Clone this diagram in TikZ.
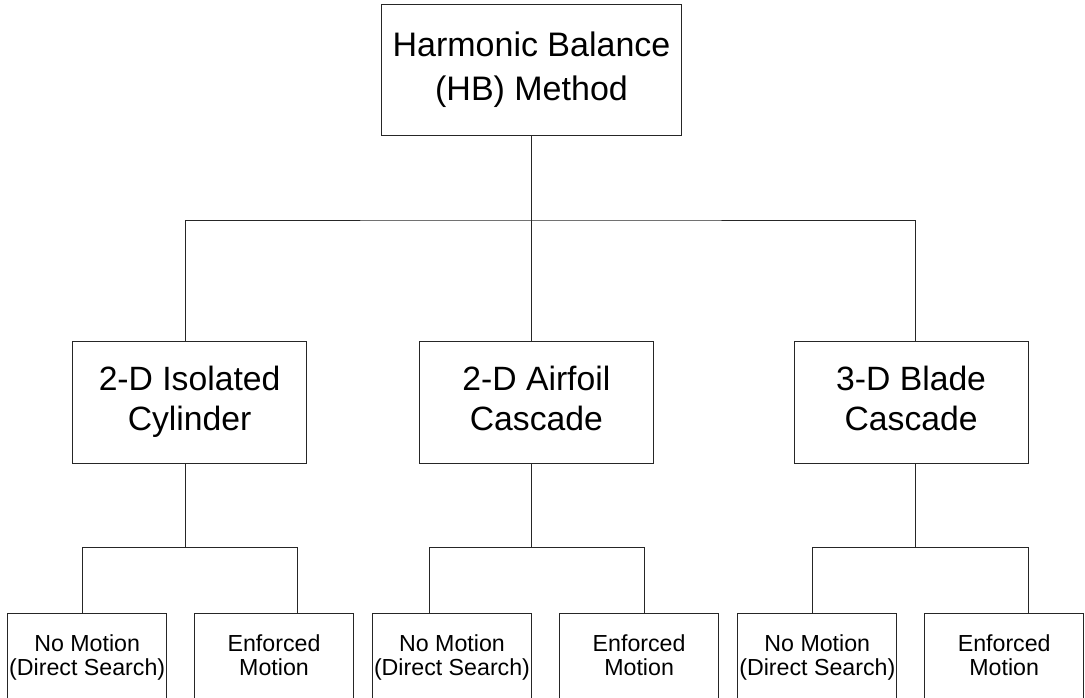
\documentclass[tikz,border=0pt]{standalone}
\usepackage{fontspec}
\setmainfont{Liberation Sans}

\tikzstyle{box}=[draw=black!85, line width=1pt, align=center, inner sep=0pt, execute at end node={\vphantom{(}}]
\tikzstyle{root}=[box, minimum width=300pt, minimum height=131pt, font=\fontsize{34}{44}\selectfont]
\tikzstyle{case}=[box, minimum width=234pt, minimum height=122pt, font=\fontsize{33.7}{40}\selectfont]
\tikzstyle{leaf}=[box, anchor=north, minimum width=159pt, minimum height=87pt, font=\fontsize{23.2}{24}\selectfont]
\tikzstyle{link}=[draw=black!85, line width=1pt]

\begin{document}
\begin{tikzpicture}[x=1pt, y=-1pt]
    \useasboundingbox (0,0) rectangle (1085,697);

    \node[root] (hb) at (531.5, 70) {Harmonic Balance\\(HB) Method};

    \node[case] (cyl) at (189.6, 402) {2-D Isolated\\Cylinder};
    \node[case] (airfoil) at (536.4, 402) {2-D Airfoil\\Cascade};
    \node[case] (blade) at (911.1, 402) {3-D Blade\\Cascade};

    \node[leaf] (cyl-still) at (87.2, 613) {No Motion\\(Direct Search)};
    \node[leaf] (cyl-forced) at (274, 613) {Enforced\\Motion};
    \node[leaf] (airfoil-still) at (452, 613) {No Motion\\(Direct Search)};
    \node[leaf] (airfoil-forced) at (639.1, 613) {Enforced\\Motion};
    \node[leaf] (blade-still) at (817.3, 613) {No Motion\\(Direct Search)};
    \node[leaf] (blade-forced) at (1004.2, 613) {Enforced\\Motion};

    \coordinate (split) at (531.5, 220);
    \coordinate (cyl-split) at (185.5, 547.6);
    \coordinate (airfoil-split) at (531.5, 547.6);
    \coordinate (blade-split) at (915.6, 547.6);

    \draw[link] (hb.south) -- ([xshift=-4.9pt]airfoil.north);
    \draw[link] ([xshift=-4.1pt]cyl.north) |- (split) -| ([xshift=4.5pt]blade.north);

    \draw[link] ([xshift=-4.1pt]cyl.south) -- (cyl-split);
    \draw[link] ([xshift=-4.8pt]cyl-still.north) |- (cyl-split) -| ([xshift=23.6pt]cyl-forced.north);

    \draw[link] ([xshift=-4.9pt]airfoil.south) -- (airfoil-split);
    \draw[link] ([xshift=-23pt]airfoil-still.north) |- (airfoil-split) -| ([xshift=5.2pt]airfoil-forced.north);

    \draw[link] ([xshift=4.5pt]blade.south) -- (blade-split);
    \draw[link] ([xshift=-4.8pt]blade-still.north) |- (blade-split) -| ([xshift=24.2pt]blade-forced.north);
  \end{tikzpicture}
\end{document}
